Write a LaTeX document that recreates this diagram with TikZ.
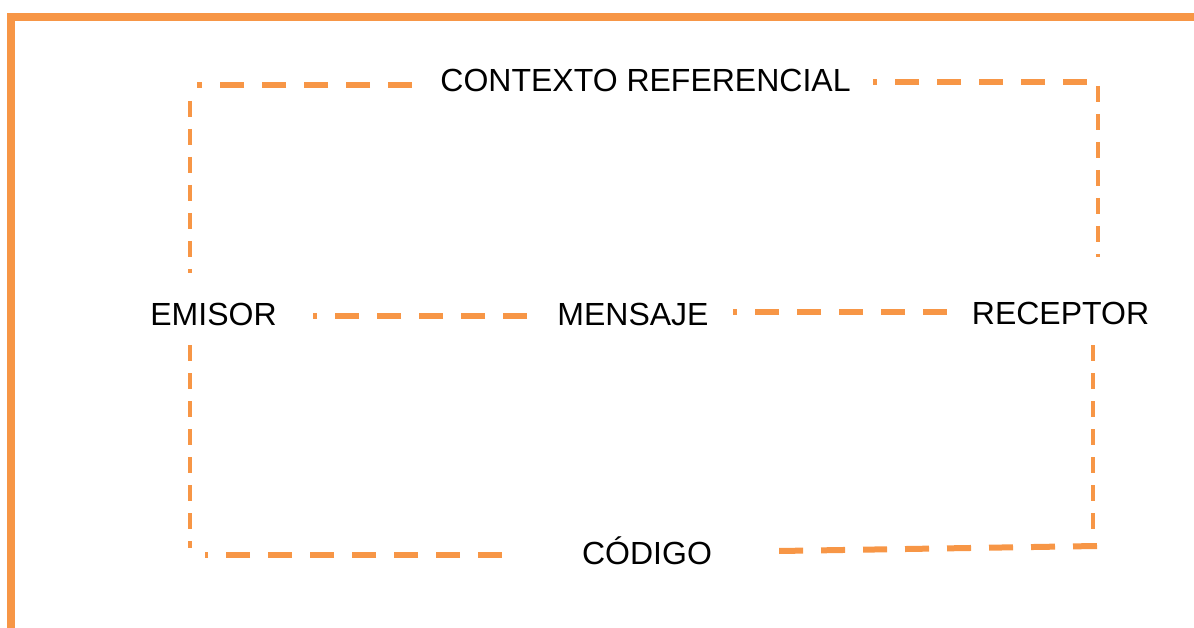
\documentclass[tikz,border=0pt]{standalone}
\usepackage{fontspec}
\setmainfont{Liberation Sans}
\definecolor{orng}{HTML}{F79646}
\tikzset{
  lbl/.style={inner sep=0pt, anchor=base, font=\fontsize{32}{38}\selectfont, text=black},
  hdash/.style={draw=orng, line width=6pt, dash pattern=on 24pt off 18pt},
  vdash/.style={draw=orng, line width=4pt, dash pattern=on 16pt off 12pt},
  frame/.style={draw=orng, line width=8pt, line join=miter}
}
\begin{document}
\begin{tikzpicture}[x=1pt,y=-1pt]
\useasboundingbox (0,0) rectangle (1194,628);
\draw[frame] (11.3,640) -- (11.3,17.3) -- (1200,17.3);
% labels
\node[lbl] (ctx) at (645.5,92) {CONTEXTO REFERENCIAL};
\node[lbl] (emi) at (213.5,326) {EMISOR};
\node[lbl] (men) at (633,326) {MENSAJE};
\node[lbl] (rec) at (1060.5,324) {RECEPTOR};
\node[lbl] (cod) at (647,564) {CÓDIGO};
% connector end points
\coordinate (tl1) at (412,85.5);
\coordinate (tl2) at (197,85.5);
\coordinate (tl3) at (190,101);
\coordinate (tl4) at (190,273);
\coordinate (tr1) at (1087,82);
\coordinate (tr2) at (873,82);
\coordinate (tr3) at (1097.5,86);
\coordinate (tr4) at (1097.5,257);
\coordinate (ml1) at (527,316);
\coordinate (ml2) at (313,316);
\coordinate (mr1) at (947,312);
\coordinate (mr2) at (733,312);
\coordinate (bl1) at (190,345);
\coordinate (bl2) at (190,548);
\coordinate (bl3) at (502,555);
\coordinate (bl4) at (205,555);
\coordinate (br1) at (1093,345);
\coordinate (br2) at (1093,529);
\coordinate (br3) at (1097,546);
\coordinate (br4) at (779,551);
% connectors
\draw[hdash] (tl1) -- (tl2);
\draw[vdash] (tl3) -- (tl4);
\draw[hdash] (tr1) -- (tr2);
\draw[vdash] (tr3) -- (tr4);
\draw[hdash] (ml1) -- (ml2);
\draw[hdash] (mr1) -- (mr2);
\draw[vdash] (bl1) -- (bl2);
\draw[hdash] (bl3) -- (bl4);
\draw[vdash] (br1) -- (br2);
\draw[hdash] (br3) -- (br4);
\end{tikzpicture}
\end{document}
